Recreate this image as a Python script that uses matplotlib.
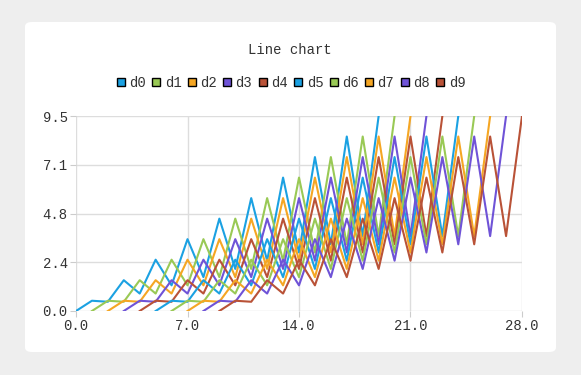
import matplotlib
matplotlib.use('Agg')
import matplotlib.pyplot as plt
from matplotlib.patches import FancyBboxPatch
from matplotlib.lines import Line2D
from matplotlib.font_manager import FontProperties

# series names, start offsets (x where each series begins) and the shared shape
names   = ['d0', 'd1', 'd2', 'd3', 'd4', 'd5', 'd6', 'd7', 'd8', 'd9']
starts  = [0, 1, 2, 3, 4, 5, 6, 7, 8, 9]
base    = [0.0, 0.5, 0.45, 1.5, 0.85, 2.5, 1.25, 3.5, 1.65, 4.5,
           2.05, 5.5, 2.45, 6.5, 2.85, 7.5, 3.25, 8.5, 3.65, 9.5]
colors  = ['#1ba1e2', '#99c955', '#f5a623', '#6f53d7', '#b95237']
xticks  = [0, 7, 14, 21, 28]
yticks  = [0, 2.375, 4.75, 7.125, 9.5]

font = 'Liberation Mono'
fp = FontProperties(family=font, size=10)

fig = plt.figure(figsize=(5.81, 3.75), dpi=100)
fig.patch.set_facecolor('#eeeeee')

panel = FancyBboxPatch((25/581, 1-352/375), 531/581, 330/375,
                       boxstyle='round,pad=0,rounding_size=0.012',
                       transform=fig.transFigure, facecolor='white',
                       edgecolor='none', zorder=-5)
fig.patches.append(panel)

ax = fig.add_axes((76/581, 64/375, 446/581, 195/375))
ax.set_facecolor('none')
ax.set_zorder(2)

for i, nm in enumerate(names):
  xs = [starts[i] + k for k in range(len(base))]
  ax.plot(xs, base, color=colors[i % 5], linewidth=1.5, label=nm)

ax.set_xlim(0, 28)
ax.set_ylim(0, 9.5)
ax.set_xticks(xticks)
ax.set_yticks(yticks)
ax.set_xticklabels(['%.1f' % v for v in xticks], fontproperties=fp, color='#333333')
ax.set_yticklabels(['%.1f' % v for v in yticks], fontproperties=fp, color='#333333')
ax.grid(True, color='#dddddd', linewidth=1)
ax.set_axisbelow(True)
for s in ax.spines.values():
  s.set_visible(False)
ax.tick_params(length=4, color='#cccccc', pad=2)

fig.text(290/581, 1-50/375, 'Line chart', ha='center', va='center',
         fontproperties=fp, color='#333333')

handles = [Line2D([], [], linestyle='none', marker='s', markersize=6,
                  markerfacecolor=colors[i % 5], markeredgecolor='black',
                  markeredgewidth=1) for i in range(len(names))]
leg = fig.legend(handles, names, loc='center', bbox_to_anchor=(291/581, 1-83/375),
                 ncol=10, frameon=False, handlelength=0.6, handletextpad=0.3,
                 columnspacing=0.45, prop=fp)
for t in leg.get_texts():
  t.set_color('#333333')

fig.savefig('out.png', dpi=100)
